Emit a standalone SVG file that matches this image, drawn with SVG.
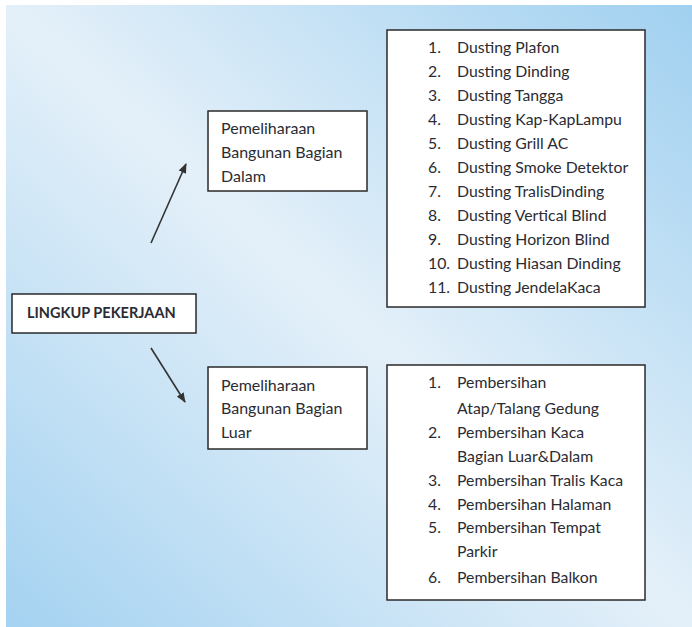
<svg xmlns="http://www.w3.org/2000/svg" width="692" height="627" viewBox="0 0 692 627">
<defs>
<linearGradient id="bg" x1="0" y1="1" x2="1" y2="0">
<stop offset="0" stop-color="#a4d2f1"/>
<stop offset="0.5" stop-color="#e4f0f9"/>
<stop offset="1" stop-color="#a0d0f0"/>
</linearGradient>
<marker id="ah" markerWidth="10" markerHeight="10" refX="9" refY="5" orient="auto" markerUnits="userSpaceOnUse">
<path d="M0,1 L10,5 L0,9 Z" fill="#333"/>
</marker>
</defs>
<style>
.box{fill:#ffffff;stroke:#2a2a2a;stroke-width:1.5}
.t{font-family:Lato,"Open Sans","Liberation Sans",sans-serif;font-size:16px;fill:#2b2b33}
.l{font-family:Lato,"Open Sans","Liberation Sans",sans-serif;font-size:15.8px;fill:#2b2b33}
.b{font-family:Lato,"Open Sans","Liberation Sans",sans-serif;font-size:14.5px;font-weight:bold;fill:#2b2b33}
.conn{stroke:#333;stroke-width:1.6;fill:none}
</style>
<rect x="0" y="0" width="692" height="627" fill="#ffffff"/>
<rect x="6" y="5" width="686" height="622" fill="url(#bg)"/>
<g id="connectors">
<line class="conn" x1="151" y1="243" x2="186" y2="164" marker-end="url(#ah)"/>
<line class="conn" x1="151" y1="348" x2="185" y2="402" marker-end="url(#ah)"/>
</g>
<g id="lingkup">
<rect class="box" x="12" y="294" width="184" height="39"/>
<text class="b" x="27" y="318">LINGKUP PEKERJAAN</text>
</g>
<g id="dalam">
<rect class="box" x="208" y="111" width="159" height="80"/>
<text class="t" x="221" y="134">Pemeliharaan</text>
<text class="t" x="221" y="158">Bangunan Bagian</text>
<text class="t" x="221" y="182">Dalam</text>
</g>
<g id="luar">
<rect class="box" x="208" y="367" width="159" height="82"/>
<text class="t" x="221" y="391">Pemeliharaan</text>
<text class="t" x="221" y="414">Bangunan Bagian</text>
<text class="t" x="221" y="438">Luar</text>
</g>
<g id="list-dalam">
<rect class="box" x="387" y="30" width="258" height="277"/>
<g class="l">
<text x="428" y="53">1.</text><text x="457" y="53">Dusting Plafon</text>
<text x="428" y="77">2.</text><text x="457" y="77">Dusting Dinding</text>
<text x="428" y="101">3.</text><text x="457" y="101">Dusting Tangga</text>
<text x="428" y="125">4.</text><text x="457" y="125">Dusting Kap-KapLampu</text>
<text x="428" y="149">5.</text><text x="457" y="149">Dusting Grill AC</text>
<text x="428" y="173">6.</text><text x="457" y="173">Dusting Smoke Detektor</text>
<text x="428" y="197">7.</text><text x="457" y="197">Dusting TralisDinding</text>
<text x="428" y="221">8.</text><text x="457" y="221">Dusting Vertical Blind</text>
<text x="428" y="245">9.</text><text x="457" y="245">Dusting Horizon Blind</text>
<text x="428" y="269">10.</text><text x="457" y="269">Dusting Hiasan Dinding</text>
<text x="428" y="293">11.</text><text x="457" y="293">Dusting JendelaKaca</text>
</g>
</g>
<g id="list-luar">
<rect class="box" x="387" y="365" width="258" height="235"/>
<g class="l">
<text x="428" y="388">1.</text><text x="457" y="388">Pembersihan</text>
<text x="457" y="414">Atap/Talang Gedung</text>
<text x="428" y="438">2.</text><text x="457" y="438">Pembersihan Kaca</text>
<text x="457" y="462">Bagian Luar&amp;Dalam</text>
<text x="428" y="486">3.</text><text x="457" y="486">Pembersihan Tralis Kaca</text>
<text x="428" y="510">4.</text><text x="457" y="510">Pembersihan Halaman</text>
<text x="428" y="533">5.</text><text x="457" y="533">Pembersihan Tempat</text>
<text x="457" y="557">Parkir</text>
<text x="428" y="583">6.</text><text x="457" y="583">Pembersihan Balkon</text>
</g>
</g>
</svg>
